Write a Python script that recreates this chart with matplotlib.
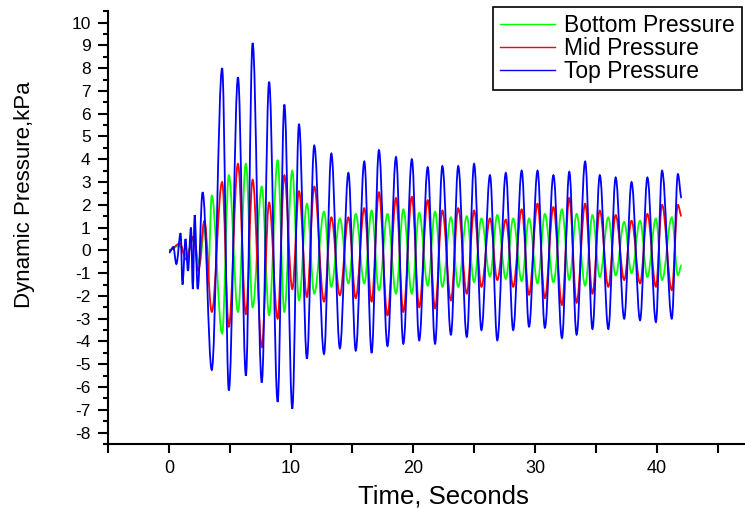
import matplotlib
matplotlib.use("Agg")
import matplotlib.pyplot as plt
from matplotlib.path import Path
from matplotlib.patches import PathPatch
from matplotlib.lines import Line2D
from matplotlib.ticker import MultipleLocator

plt.rcParams['font.family'] = ['Liberation Sans', 'DejaVu Sans']
plt.rcParams['axes.unicode_minus'] = False

# times (s) of the wave crests / troughs shared by the three gauges after ~3.5 s
lock_t = [3.5, 4.35, 4.9, 5.65, 6.3, 6.85, 7.6, 8.2, 8.9, 9.45, 10.1, 10.65, 11.3, 11.9,
          12.7, 13.3, 14.0, 14.7, 15.3, 16.0, 16.6, 17.2, 17.9, 18.6,
          19.2, 19.9, 20.5, 21.2, 21.8, 22.4, 23.1, 23.7, 24.4, 25.0,
          25.6, 26.3, 26.9, 27.6, 28.2, 28.9, 29.5, 30.2, 30.8, 31.5,
          32.2, 32.8, 33.4, 34.1, 34.7, 35.3, 36.0, 36.6, 37.3, 37.9,
          38.6, 39.2, 39.9, 40.4, 41.2, 41.7, 42.0]

# Top Pressure (kPa)
top_early_t = [0.0, 0.35, 0.6, 0.95, 1.1, 1.35, 1.55, 1.8, 1.95, 2.1, 2.35, 2.75]
top_early_p = [-0.1, 0.15, -0.6, 0.75, -1.5, 0.5, -0.9, 1.0, -1.7, 1.55, -1.7, 2.55]
top_p = [-5.25, 8.0, -6.15, 7.6, -5.5, 9.1, -5.8, 7.4, -6.65, 6.4, -6.95, 5.55, -4.75, 4.6,
         -4.55, 4.25, -4.3, 3.4, -4.4, 3.9, -4.5, 4.4, -4.2, 4.1,
         -4.1, 4.0, -3.95, 3.65, -4.1, 3.7, -3.7, 3.7, -3.8, 3.8,
         -3.5, 3.3, -3.95, 3.4, -3.5, 3.5, -3.35, 3.5, -3.4, 3.3,
         -3.85, 3.45, -3.7, 3.9, -3.45, 3.3, -3.45, 3.2, -3.0, 3.0,
         -3.07, 3.2, -3.15, 3.5, -3.0, 3.35, 2.3]

# Mid Pressure (kPa)
mid_early_t = [0.0, 0.9, 1.4, 2.0, 2.4, 2.9]
mid_early_p = [0.0, 0.3, -0.4, 0.6, -0.9, 1.3]
mid_p = [-2.7, 3.0, -3.35, 3.8, -2.8, 3.1, -4.25, 2.1, -3.0, 3.3, -1.7, 2.6, -2.05, 2.8,
         -2.25, 1.45, -1.97, 1.45, -2.1, 1.85, -2.25, 2.55, -2.85, 2.3,
         -2.7, 2.35, -2.5, 2.2, -2.55, 1.75, -2.2, 1.85, -1.9, 1.75,
         -1.6, 1.4, -1.3, 1.35, -1.6, 1.8, -1.95, 2.05, -2.1, 1.9,
         -2.4, 2.3, -2.3, 2.05, -1.9, 1.75, -1.6, 1.55, -1.3, 1.3,
         -1.45, 1.6, -1.6, 2.0, -1.75, 2.0, 1.5]

# Bottom Pressure (kPa)
bot_early_t = [0.0, 0.8, 1.4, 2.0, 2.5, 2.9, 3.2]
bot_early_p = [0.0, 0.2, -0.2, 0.5, -0.6, 1.0, -1.2]
bot_p = [2.4, -3.65, 3.3, -2.7, 3.8, -2.5, 2.8, -2.85, 3.95, -2.7, 3.5, -2.2, 2.05, -1.9,
         1.7, -1.6, 1.4, -1.45, 1.6, -1.45, 1.75, -1.75, 1.6, -1.9,
         1.8, -1.9, 1.65, -1.55, 1.7, -1.6, 1.45, -1.6, 1.5, -1.4,
         1.4, -1.15, 1.55, -1.25, 1.4, -1.35, 1.4, -1.45, 1.6, -1.4,
         1.8, -1.3, 1.6, -1.55, 1.55, -1.17, 1.45, -1.1, 1.25, -1.0,
         1.3, -1.17, 1.4, -1.3, 1.45, -1.1, -0.65]

series = [
    ("Bottom Pressure", bot_early_t + lock_t, bot_early_p + bot_p, "#00ff00"),
    ("Mid Pressure", mid_early_t + lock_t, mid_early_p + mid_p, "#ff0000"),
    ("Top Pressure", top_early_t + lock_t, top_early_p + top_p, "#0000ff"),
]


def wave_path(t, p, k=0.363):
    # smooth curve through the crests/troughs (flat tangent at each extreme)
    verts = [(t[0], p[0])]
    codes = [Path.MOVETO]
    for i in range(len(t) - 1):
        d = t[i + 1] - t[i]
        verts += [(t[i] + k * d, p[i]), (t[i + 1] - k * d, p[i + 1]), (t[i + 1], p[i + 1])]
        codes += [Path.CURVE4] * 3
    return Path(verts, codes)


fig = plt.figure(figsize=(7.45, 5.08), dpi=100)
ax = fig.add_axes([0.145, 0.126, 0.855, 0.852])

handles = []
for name, t, p, col in series:
    ax.add_patch(PathPatch(wave_path(t, p), facecolor='none', edgecolor=col, lw=1.3))
    handles.append(Line2D([], [], color=col, lw=1.0, label=name))

ax.set_xlim(-5, 47.2)
ax.set_ylim(-8.5, 10.5)

for s in ['top', 'right']:
    ax.spines[s].set_visible(False)
for s in ['left', 'bottom']:
    ax.spines[s].set_linewidth(1.5)

ax.xaxis.set_major_locator(MultipleLocator(10))
ax.xaxis.set_minor_locator(MultipleLocator(5))
ax.yaxis.set_major_locator(MultipleLocator(1))
ax.yaxis.set_minor_locator(MultipleLocator(0.5))
ax.tick_params(axis='x', which='both', direction='out', length=6.5, width=1.5,
               labelsize=13, pad=5)
ax.tick_params(axis='y', which='major', direction='out', length=7.5, width=1.5,
               labelsize=12.5, pad=5)
ax.tick_params(axis='y', which='minor', direction='out', length=3.6, width=1.5)

ax.set_xlabel("Time, Seconds", fontsize=18.5)
ax.set_ylabel("Dynamic Pressure,kPa", fontsize=16)
ax.xaxis.set_label_coords(0.526, -0.093)
ax.yaxis.set_label_coords(-0.115, 0.575)

leg = ax.legend(handles=handles, loc='upper right', bbox_to_anchor=(742 / 745, 1 - 7 / 508),
                bbox_transform=fig.transFigure, borderaxespad=0, fontsize=16.5,
                fancybox=False, shadow=False, framealpha=1, edgecolor='black',
                handlelength=2.4, handletextpad=0.4, labelspacing=0.0, borderpad=0.3)
leg.get_frame().set_linewidth(1.2)

fig.savefig("out.png", dpi=100)
